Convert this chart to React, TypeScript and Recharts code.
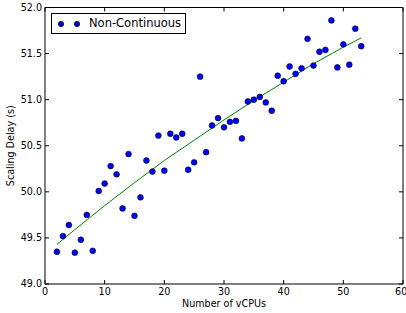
import React from 'react';
import { ComposedChart, Scatter, XAxis, YAxis, Legend } from 'recharts';

const vcpus = [2,3,4,5,6,7,8,9,10,11,12,13,14,15,16,17,18,19,20,21,22,23,24,25,26,27,28,29,30,31,32,33,34,35,36,37,38,39,40,41,42,43,44,45,46,47,48,49,50,51,52,53];
const delays = [49.35,49.52,49.64,49.34,49.48,49.75,49.36,50.01,50.09,50.28,50.19,49.82,50.41,49.74,49.94,50.34,50.22,50.61,50.23,50.63,50.59,50.63,50.24,50.32,51.25,50.43,50.72,50.80,50.70,50.76,50.77,50.58,50.98,51.00,51.03,50.97,50.88,51.26,51.20,51.36,51.28,51.34,51.66,51.37,51.52,51.54,51.86,51.35,51.60,51.38,51.77,51.58];

const fitX = [2,5,10,15,20,25,30,35,40,45,50,53];
const fitY = [49.43,49.59,49.85,50.10,50.34,50.56,50.78,50.99,51.19,51.39,51.57,51.67];

const xTicks = [0,10,20,30,40,50,60];
const yTicks = [49.0,49.5,50.0,50.5,51.0,51.5,52.0];

const points = vcpus.map((x, i) => ({ x, y: delays[i] }));
const fit = fitX.map((x, i) => ({ x, y: fitY[i] }));

const FONT = 'DejaVu Sans';

const Dot = (props: any) => (
  <circle cx={props.cx} cy={props.cy} r={2.9} fill="#0000ff" stroke="#000" strokeWidth={0.6} />
);

const LegendBox = (props: any) => {
  const item = (props.payload || []).find((p: any) => p.type !== 'none');
  const name = item ? item.value : 'Non-Continuous';
  const dot = (left: number) => (
    <span style={{ position: 'absolute', left, top: 7, width: 4, height: 4, borderRadius: '50%', background: '#0000ff', border: '0.5px solid #000' }} />
  );
  return (
    <div style={{ position: 'relative', width: 135, height: 21, border: '1px solid #000', boxSizing: 'border-box', background: '#fff' }}>
      {dot(5.5)}
      {dot(21.5)}
      <span style={{ position: 'absolute', left: 37, top: 1, fontFamily: FONT, fontSize: 11.5, color: '#000', whiteSpace: 'nowrap', lineHeight: '16px' }}>{name}</span>
    </div>
  );
};

const YLabel = (props: any) => {
  const vb = props.viewBox || { x: 0, y: 0, width: 45, height: 277 };
  const x = 10;
  const y = vb.y + vb.height / 2;
  return (
    <text x={x} y={y} transform={`rotate(-90, ${x}, ${y})`} textAnchor="middle" dominantBaseline="central" fontFamily={FONT} fontSize={9.6} fill="#000">
      Scaling Delay (s)
    </text>
  );
};

export default function App() {
  return (
    <div style={{ position: 'absolute', left: 0, top: 0, width: 406, height: 313, background: '#fff' }}>
      <ComposedChart width={406} height={313} margin={{ top: 6.5, right: 2, bottom: 0, left: 0 }}>
        <XAxis
          dataKey="x"
          type="number"
          domain={[0, 60]}
          ticks={xTicks}
          height={29}
          tickSize={-4}
          tickMargin={8}
          stroke="#000"
          tick={{ fill: '#000', fontFamily: FONT, fontSize: 9.6 }}
          label={{ value: 'Number of vCPUs', position: 'insideBottom', offset: 6, fill: '#000', fontFamily: FONT, fontSize: 9.6 }}
        />
        <XAxis
          xAxisId="top"
          orientation="top"
          dataKey="x"
          type="number"
          domain={[0, 60]}
          ticks={xTicks}
          height={1}
          tickSize={-4}
          tickFormatter={() => ''}
          stroke="#000"
        />
        <YAxis
          dataKey="y"
          type="number"
          domain={[49, 52]}
          ticks={yTicks}
          width={45}
          tickSize={-4}
          tickMargin={7}
          stroke="#000"
          tickFormatter={(v: number) => v.toFixed(1)}
          tick={{ fill: '#000', fontFamily: FONT, fontSize: 9.6 }}
          label={{ content: YLabel }}
        />
        <YAxis
          yAxisId="right"
          orientation="right"
          dataKey="y"
          type="number"
          domain={[49, 52]}
          ticks={yTicks}
          width={1}
          tickSize={-4}
          tickFormatter={() => ''}
          stroke="#000"
        />
        <Legend
          layout="horizontal"
          verticalAlign="middle"
          align="center"
          content={LegendBox}
          wrapperStyle={{ position: 'absolute', left: 51, top: 13, width: 135, height: 21 }}
        />
        <Scatter
          name="fit"
          data={fit}
          xAxisId="top"
          yAxisId="right"
          legendType="none"
          line={{ stroke: '#008000', strokeWidth: 1 }}
          shape={() => <g />}
          isAnimationActive={false}
        />
        <Scatter
          name="Non-Continuous"
          data={points}
          fill="#0000ff"
          shape={Dot}
          isAnimationActive={false}
        />
      </ComposedChart>
    </div>
  );
}
